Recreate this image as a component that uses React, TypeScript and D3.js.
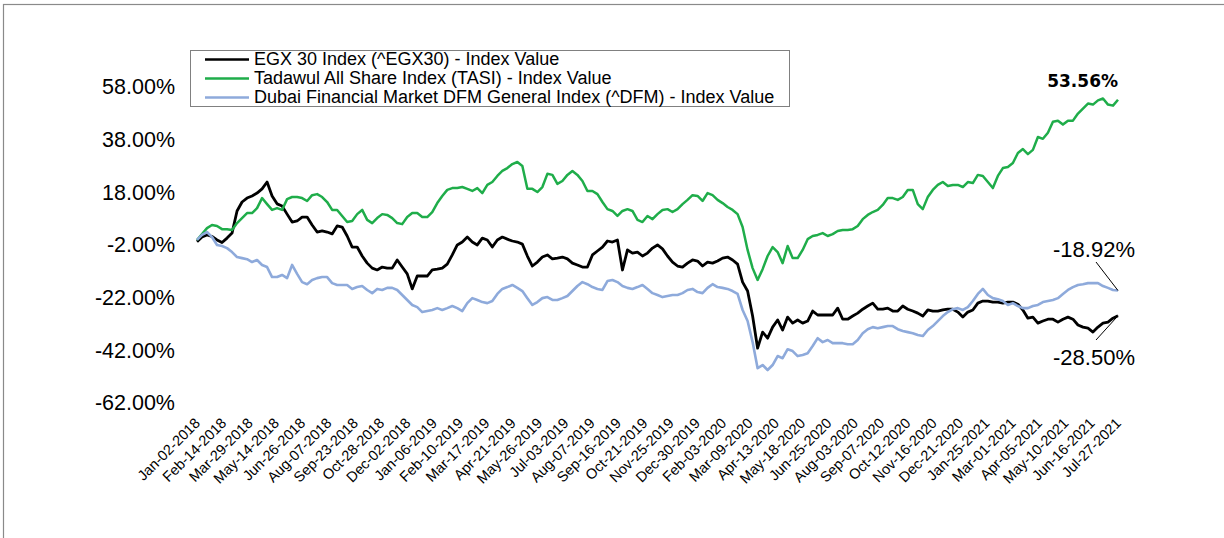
import React from 'react';
import * as d3 from 'd3';

// category labels along the x axis (every ~25 trading days)
const dateLabels = [
  'Jan-02-2018', 'Feb-14-2018', 'Mar-29-2018', 'May-14-2018', 'Jun-26-2018', 'Aug-07-2018',
  'Sep-23-2018', 'Oct-28-2018', 'Dec-02-2018', 'Jan-06-2019', 'Feb-10-2019', 'Mar-17-2019',
  'Apr-21-2019', 'May-26-2019', 'Jul-03-2019', 'Aug-07-2019', 'Sep-16-2019', 'Oct-21-2019',
  'Nov-25-2019', 'Dec-30-2019', 'Feb-03-2020', 'Mar-09-2020', 'Apr-13-2020', 'May-18-2020',
  'Jun-25-2020', 'Aug-03-2020', 'Sep-07-2020', 'Oct-12-2020', 'Nov-16-2020', 'Dec-21-2020',
  'Jan-25-2021', 'Mar-01-2021', 'Apr-05-2021', 'May-10-2021', 'Jun-16-2021', 'Jul-27-2021',
];

// cumulative return in % (weekly-ish samples)
const egx30 = [
  -0.4, 1.4, 2.2, 1.6, 0.3, -0.7, 1.0, 2.9, 11.3, 14.7,
  16.2, 17.0, 18.1, 19.7, 22.3, 17.0, 14.0, 13.2, 10.1, 7.1,
  7.5, 9.0, 9.0, 6.0, 3.3, 3.7, 3.3, 2.6, 5.6, 5.2,
  1.8, -2.4, -2.4, -5.8, -8.5, -10.4, -11.1, -10.0, -10.4, -10.4,
  -7.3, -10.0, -12.6, -18.3, -13.4, -13.4, -13.4, -11.1, -10.8, -10.4,
  -8.9, -5.4, -1.6, -0.5, 1.4, -0.5, -1.6, 1.0, 0.3, -2.4,
  0.3, 1.4, 0.6, -0.1, -0.5, -1.3, -5.8, -9.6, -8.1, -6.2,
  -5.4, -6.9, -6.6, -6.2, -6.9, -8.5, -9.2, -10.0, -10.0, -5.4,
  -3.9, -2.4, -0.1, -0.5, 0.3, -11.1, -3.5, -4.7, -4.3, -5.8,
  -4.7, -2.8, -1.6, -3.1, -5.8, -8.1, -9.6, -10.0, -8.5, -7.3,
  -7.7, -9.6, -8.1, -8.5, -7.7, -6.6, -6.2, -7.3, -8.9, -15.7,
  -19.1, -28.6, -40.8, -34.7, -37.0, -32.8, -30.1, -33.9, -29.0, -31.3,
  -30.1, -31.3, -30.5, -26.7, -28.2, -28.2, -28.2, -28.2, -25.6, -29.8,
  -29.8, -28.6, -27.5, -26.0, -24.8, -23.7, -26.0, -26.0, -25.6, -26.7,
  -26.7, -24.8, -26.0, -26.7, -27.5, -28.6, -26.3, -26.7, -26.7, -26.3,
  -26.0, -26.0, -27.1, -29.0, -27.1, -26.3, -23.7, -22.9, -22.9, -23.3,
  -23.3, -23.7, -23.3, -23.3, -24.1, -26.3, -29.4, -29.0, -31.3, -30.5,
  -29.8, -29.8, -30.9, -29.8, -29.0, -29.8, -32.0, -32.8, -33.2, -34.7,
  -32.8, -31.3, -30.9, -29.4, -28.5,
];

const tasi = [
  0.3, 2.5, 4.8, 6.0, 5.6, 4.4, 4.4, 4.1, 6.7, 8.6,
  10.5, 10.5, 12.4, 16.2, 13.9, 11.7, 12.4, 11.7, 15.8, 16.6,
  16.6, 16.2, 15.1, 17.3, 17.7, 16.6, 14.7, 11.7, 11.7, 9.4,
  7.1, 7.5, 10.1, 11.7, 7.9, 6.7, 8.6, 10.1, 9.8, 8.6,
  6.7, 6.3, 9.0, 10.5, 10.5, 9.0, 9.0, 10.9, 14.3, 17.0,
  19.3, 20.0, 20.0, 20.4, 19.7, 18.9, 20.0, 18.1, 21.2, 22.3,
  24.6, 26.5, 27.6, 29.1, 29.9, 28.4, 19.7, 19.7, 18.5, 20.4,
  25.4, 25.0, 21.6, 22.7, 25.0, 26.5, 25.0, 22.7, 18.9, 18.9,
  17.7, 14.7, 12.0, 11.3, 9.4, 11.3, 12.0, 11.3, 7.9, 7.1,
  9.4, 8.2, 10.1, 11.7, 12.0, 10.9, 12.0, 13.9, 15.5, 17.3,
  17.0, 15.1, 18.1, 17.3, 15.5, 14.3, 12.8, 11.7, 10.1, 5.2,
  -3.5, -10.4, -14.9, -10.8, -5.8, -2.4, -4.3, -8.5, -2.0, -6.6,
  -6.6, -3.5, 0.6, 1.8, 2.2, 2.9, 1.8, 2.5, 3.7, 4.1,
  4.1, 4.4, 5.6, 8.2, 9.8, 10.9, 11.7, 13.6, 16.2, 16.2,
  15.5, 16.6, 19.3, 19.3, 13.9, 12.0, 16.6, 19.3, 21.2, 22.3,
  20.8, 21.2, 21.2, 20.4, 22.3, 21.9, 25.0, 24.6, 22.3, 20.0,
  24.6, 27.6, 28.0, 29.5, 33.3, 34.8, 32.9, 34.5, 39.4, 38.7,
  41.0, 45.2, 45.6, 44.1, 45.6, 45.6, 48.3, 50.2, 52.1, 51.7,
  53.3, 54.0, 51.7, 51.3, 53.56,
];

const dfm = [
  0.3, 2.2, 3.3, 1.4, -1.6, -2.0, -2.8, -4.3, -6.2, -6.6,
  -7.0, -8.1, -7.3, -9.2, -10.0, -13.8, -13.8, -13.0, -14.2, -9.2,
  -12.6, -15.7, -16.5, -14.9, -14.2, -13.8, -13.8, -16.1, -16.8, -16.8,
  -16.8, -18.3, -17.6, -17.2, -18.7, -19.9, -18.3, -18.7, -17.9, -17.9,
  -18.7, -20.6, -22.5, -24.4, -25.2, -27.1, -26.7, -26.3, -25.6, -26.3,
  -25.6, -24.8, -25.6, -26.7, -23.7, -21.8, -22.5, -23.3, -23.7, -22.9,
  -20.2, -18.3, -17.6, -16.8, -17.9, -19.1, -21.8, -24.4, -23.3, -21.8,
  -21.4, -22.5, -22.5, -21.8, -21.0, -19.1, -17.2, -15.7, -16.5, -17.6,
  -18.3, -18.7, -15.3, -14.9, -15.7, -17.2, -17.9, -18.3, -17.6, -16.8,
  -18.3, -19.9, -20.6, -21.4, -21.0, -20.6, -20.6, -19.9, -18.7, -18.3,
  -19.5, -19.9, -17.9, -16.5, -17.6, -17.9, -18.3, -19.1, -20.2, -26.3,
  -30.5, -38.5, -48.4, -47.2, -49.1, -47.2, -43.8, -44.6, -41.2, -41.9,
  -43.8, -43.4, -42.7, -40.0, -37.0, -38.5, -37.7, -38.9, -38.9, -38.9,
  -39.3, -39.3, -37.7, -35.1, -33.6, -32.8, -33.2, -32.8, -32.4, -32.4,
  -33.6, -34.3, -34.7, -35.1, -35.8, -36.2, -33.9, -32.4, -30.5, -28.6,
  -27.1, -26.0, -25.6, -26.3, -25.2, -22.9, -20.2, -18.3, -20.6, -21.8,
  -22.2, -22.9, -24.4, -23.7, -24.8, -25.6, -25.6, -24.8, -24.4, -23.3,
  -22.9, -22.5, -21.8, -20.2, -18.7, -17.6, -16.8, -16.5, -16.1, -16.1,
  -16.1, -17.2, -17.9, -18.7, -18.92,
];

const yTicks = [58, 38, 18, -2, -22, -42, -62];

const legendNames = [
  'EGX 30 Index (^EGX30) - Index Value',
  'Tadawul All Share Index (TASI) - Index Value',
  'Dubai Financial Market DFM General Index (^DFM) - Index Value',
];

const width = 1224;
const height = 538;
const plotLeft = 197;
const plotRight = 1118;
const plotTop = 88;
const plotBottom = 404;
const font = '"Liberation Sans", Arial, sans-serif';

// plain hyphen for negatives, like the original
const pct = (v: number) => `${v.toFixed(2)}%`;

const App = () => {
  const n = egx30.length;
  const x = d3.scaleLinear().domain([0, n - 1]).range([plotLeft, plotRight]);
  const y = d3.scaleLinear().domain([-62, 58]).range([plotBottom, plotTop]);

  const series = [
    { name: legendNames[0], values: egx30, color: '#000000', sw: 2.8 },
    { name: legendNames[1], values: tasi, color: '#1fad4a', sw: 2.5 },
    { name: legendNames[2], values: dfm, color: '#8eaadb', sw: 2.6 },
  ];

  const line = d3
    .line<number>()
    .x((d, i) => x(i))
    .y((d) => y(d));

  const lastIdx = n - 1;
  const labelStep = (n - 1) / (dateLabels.length - 1);

  const endBlack = egx30[lastIdx];
  const endGreen = tasi[lastIdx];
  const endBlue = dfm[lastIdx];

  return (
    <svg
      width={width}
      height={height}
      style={{ position: 'absolute', left: 0, top: 0, display: 'block', background: '#fff' }}
      fontFamily={font}
    >
      <rect x={3.5} y={4.5} width={1240} height={560} fill="none" stroke="#8a8a8a" strokeWidth={1.2} />

      {/* y axis labels */}
      {yTicks.map((t) => (
        <text key={t} x={175} y={y(t)} dy="0.3em" textAnchor="end" fontSize={21.5} fill="#000">
          {pct(t)}
        </text>
      ))}

      {/* x axis labels */}
      {dateLabels.map((d, k) => (
        <text
          key={d}
          transform={`translate(${x(k * labelStep) + 4},${424}) rotate(-45)`}
          textAnchor="end"
          fontSize={14.5}
          fill="#000"
        >
          {d}
        </text>
      ))}

      {/* series lines */}
      {series.map((s) => (
        <path
          key={s.name}
          d={line(s.values) || ''}
          fill="none"
          stroke={s.color}
          strokeWidth={s.sw}
          strokeLinejoin="round"
        />
      ))}

      {/* end annotations */}
      <text x={x(lastIdx)} y={87} textAnchor="end" fontSize={17} fontWeight="bold" fontFamily='"DejaVu Sans", sans-serif'>
        {pct(endGreen)}
      </text>
      <text x={1094} y={257} textAnchor="middle" fontSize={22}>
        {pct(endBlue)}
      </text>
      <line x1={1096} y1={262} x2={x(lastIdx)} y2={y(endBlue)} stroke="#000" strokeWidth={1} />
      <text x={1094} y={365} textAnchor="middle" fontSize={22}>
        {pct(endBlack)}
      </text>
      <line x1={1096} y1={340} x2={x(lastIdx)} y2={y(endBlack)} stroke="#000" strokeWidth={1} />

      {/* legend */}
      <g transform="translate(190,50)">
        <rect x={0.5} y={0.5} width={599} height={56} fill="#fff" stroke="#808080" strokeWidth={1} />
        {series.map((s, i) => (
          <g key={s.name} transform={`translate(0,${9.5 + i * 19})`}>
            <line x1={15} x2={59} y1={0} y2={0} stroke={s.color} strokeWidth={2.6} />
            <text x={64} y={5.5} fontSize={18} fill="#000">
              {s.name}
            </text>
          </g>
        ))}
      </g>
    </svg>
  );
};

export default App;
